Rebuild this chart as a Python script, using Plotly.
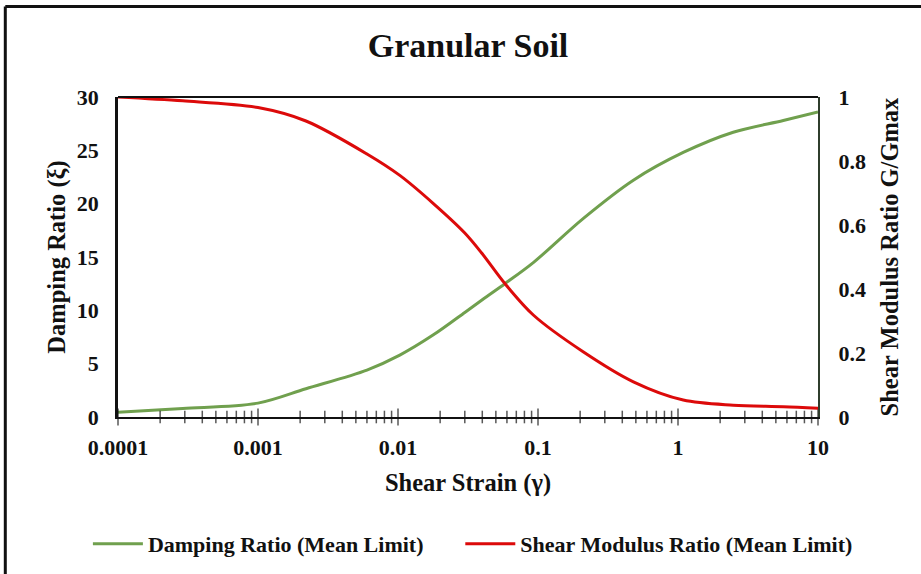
import plotly.graph_objects as go

# Data
strain = [0.0001, 0.00029, 0.001, 0.0022, 0.006, 0.0103, 0.0179, 0.03, 0.04,
          0.058, 0.093, 0.21, 0.48, 1.09, 2.48, 5.65, 10]
damping = [0.45, 0.8, 1.3, 2.65, 4.4, 5.8, 7.7, 9.8, 11.0,
           12.5, 14.5, 18.6, 22.2, 24.8, 26.7, 27.8, 28.6]
modulus = [1.0, 0.988, 0.967, 0.925, 0.822, 0.755, 0.667, 0.575, 0.51,
           0.417, 0.318, 0.204, 0.11, 0.053, 0.037, 0.032, 0.027]

x_tickvals = [0.0001, 0.001, 0.01, 0.1, 1, 10]
x_ticktext = ["0.0001", "0.001", "0.01", "0.1", "1", "10"]
y1_tickvals = [0, 5, 10, 15, 20, 25, 30]
y2_tickvals = [0, 0.2, 0.4, 0.6, 0.8, 1]
y2_ticktext = ["0", "0.2", "0.4", "0.6", "0.8", "1"]

title_text = "Granular Soil"
x_title = "Shear Strain (γ)"
y1_title = "Damping Ratio (ξ)"
y2_title = "Shear Modulus Ratio G/Gmax"
name_damping = "Damping Ratio (Mean Limit)"
name_modulus = "Shear Modulus Ratio (Mean Limit)"

GREEN = "#70a04e"
RED = "#dc0a0a"
FONT = "Liberation Serif"
TXT = "#111111"

# log-axis tick positions (major decades + minor 2..9), drawn as crossing tick marks
minor_vals = [k * 10 ** e for e in range(-4, 1) for k in range(2, 10)]
tick_x = x_tickvals + minor_vals
tick_size = [12] * len(x_tickvals) + [9] * len(minor_vals)

fig = go.Figure()
fig.add_trace(go.Scatter(x=strain, y=damping, name=name_damping, mode="lines",
                         line=dict(color=GREEN, width=3, shape="spline", smoothing=0.9),
                         xaxis="x", yaxis="y", legend="legend"))
fig.add_trace(go.Scatter(x=strain, y=modulus, name=name_modulus, mode="lines",
                         line=dict(color=RED, width=3, shape="spline", smoothing=0.9),
                         xaxis="x", yaxis="y2", legend="legend2"))
fig.add_trace(go.Scatter(x=tick_x, y=[0] * len(tick_x), mode="markers",
                         marker=dict(symbol="line-ns-open", size=tick_size,
                                     color="#111111",
                                     line=dict(color="#111111", width=1.5)),
                         cliponaxis=False, showlegend=False, hoverinfo="skip",
                         xaxis="x", yaxis="y"))

legfont = dict(size=22, family=FONT, color=TXT, weight="bold")

fig.update_layout(
    width=921, height=574,
    margin=dict(l=118, r=103, t=97, b=157, autoexpand=False),
    paper_bgcolor="white", plot_bgcolor="white",
    font=dict(family=FONT, color=TXT),
    title=dict(text="<b>" + title_text + "</b>", x=0.5, xref="paper", xanchor="center",
               y=0.922, yanchor="middle", font=dict(size=34, family=FONT, color=TXT)),
    xaxis=dict(type="log", range=[-4, 1], tickmode="array", tickvals=x_tickvals,
               ticktext=x_ticktext, automargin=True,
               showgrid=False, zeroline=False, showline=True, linecolor="#111111",
               linewidth=2, ticks="", ticklabelstandoff=10,
               tickfont=dict(size=22, family=FONT, color=TXT, weight="bold"),
               title=dict(text="<b>" + x_title + "</b>", standoff=14,
                          font=dict(size=24.5, family=FONT, color=TXT))),
    yaxis=dict(range=[0, 30], tickvals=y1_tickvals, showgrid=False, zeroline=False,
               showline=True, linecolor="#111111", linewidth=2.5, ticks="",
               ticklabelstandoff=12, automargin=True,
               tickfont=dict(size=22, family=FONT, color=TXT, weight="bold"),
               title=dict(text="<b>" + y1_title + "</b>", standoff=5,
                          font=dict(size=24.5, family=FONT, color=TXT))),
    yaxis2=dict(range=[0, 1], tickvals=y2_tickvals, ticktext=y2_ticktext,
                overlaying="y", side="right", anchor="x", showgrid=False,
                zeroline=False, showline=True, linecolor="#2f3d2c", linewidth=2,
                ticks="", ticklabelstandoff=14, automargin=True,
                tickfont=dict(size=22, family=FONT, color=TXT, weight="bold"),
                title=dict(text="<b>" + y2_title + "</b>", standoff=16,
                           font=dict(size=24.5, family=FONT, color=TXT))),
    legend=dict(orientation="h", x=-0.043, xanchor="left", y=-0.397, yanchor="middle",
                font=legfont, itemwidth=50, bgcolor="rgba(0,0,0,0)", borderwidth=0),
    legend2=dict(orientation="h", x=0.489, xanchor="left", y=-0.397, yanchor="middle",
                 font=legfont, itemwidth=50, bgcolor="rgba(0,0,0,0)", borderwidth=0),
    showlegend=True,
)

# top edge of the plot frame
fig.add_shape(type="line", xref="paper", yref="paper", x0=0, x1=1, y0=1, y1=1,
              line=dict(color="#111111", width=2))
# outer frame (top and left edges visible in the reference)
fig.add_shape(type="line", xref="paper", yref="paper", x0=-0.161, x1=1.5,
              y0=1.283, y1=1.283, line=dict(color="#111111", width=3))
fig.add_shape(type="line", xref="paper", yref="paper", x0=-0.161, x1=-0.161,
              y0=1.283, y1=-0.6, line=dict(color="#111111", width=3))

fig.write_html("out.html")
